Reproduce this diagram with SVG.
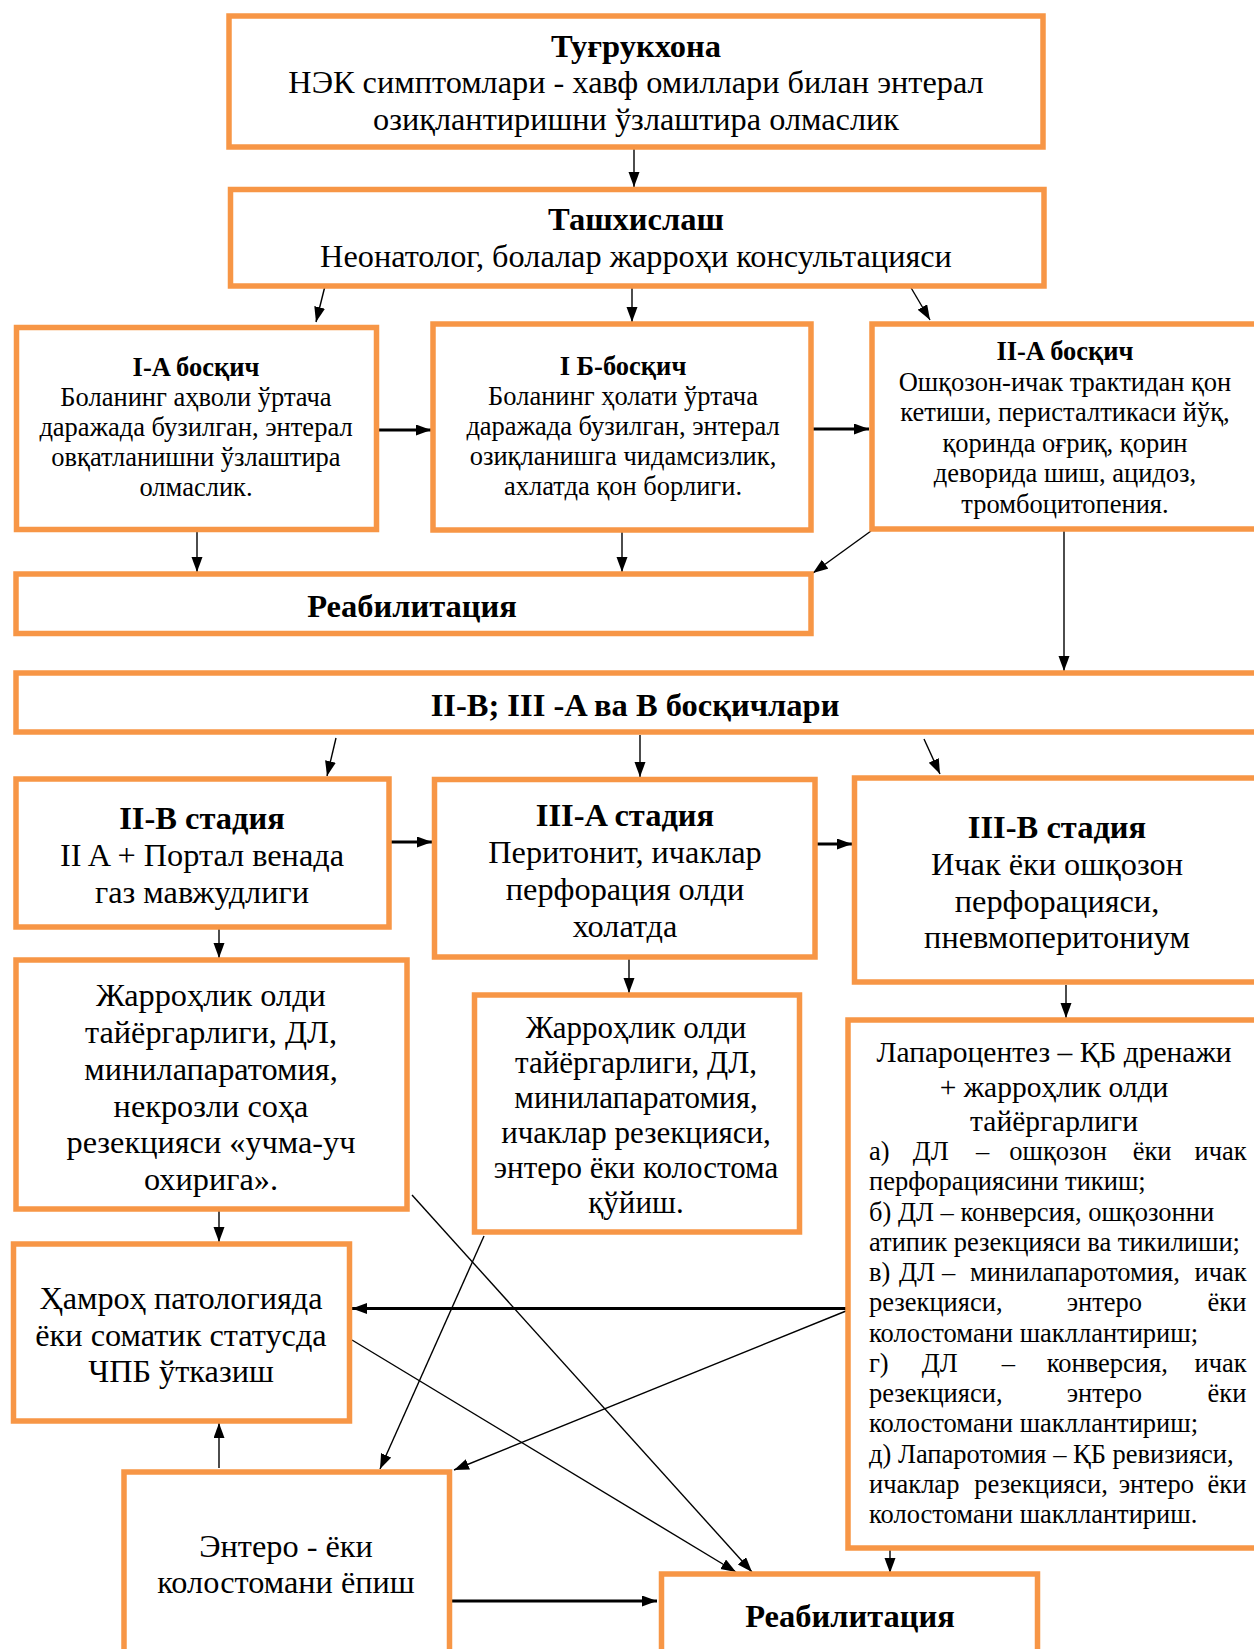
<svg xmlns="http://www.w3.org/2000/svg" width="1254" height="1649" viewBox="0 0 1254 1649">
<style>
.box{fill:#fff;stroke:#F79646;stroke-width:5.5}
.t{font-family:"Liberation Serif","DejaVu Serif",serif;fill:#000}
.c{text-anchor:middle}
.b{font-weight:bold}
.f31{font-size:32.3px}
.fb{font-size:32.5px}
.f30{font-size:31px}
.f29{font-size:29.5px}
.f26{font-size:26.5px}
.ln{stroke:#000;stroke-width:1.4;fill:none;marker-end:url(#ah)}
.lt{stroke:#000;stroke-width:2.8;fill:none;marker-end:url(#ah)}
</style>
<defs>
<marker id="ah" markerUnits="userSpaceOnUse" markerWidth="16" markerHeight="12" refX="15" refY="5.5" orient="auto">
<path d="M0,0 L15,5.5 L0,11 z" fill="#000"/>
</marker>
</defs>
<rect width="1254" height="1649" fill="#fff"/>

<g id="connectors">
<line class="ln" x1="634" y1="147" x2="634" y2="187"/>
<line class="ln" x1="325" y1="286" x2="316" y2="322"/>
<line class="ln" x1="632" y1="286" x2="632" y2="322"/>
<line class="ln" x1="910" y1="286" x2="930" y2="320"/>
<line class="lt" x1="378" y1="430" x2="431" y2="430"/>
<line class="lt" x1="813" y1="429" x2="869" y2="429"/>
<line class="ln" x1="197" y1="530" x2="197" y2="572"/>
<line class="ln" x1="622" y1="530" x2="622" y2="572"/>
<line class="ln" x1="871" y1="531" x2="813" y2="573"/>
<line class="ln" x1="1064" y1="531" x2="1064" y2="671"/>
<line class="ln" x1="336" y1="738" x2="327" y2="776"/>
<line class="ln" x1="640" y1="735" x2="640" y2="777"/>
<line class="ln" x1="924" y1="739" x2="940" y2="774"/>
<line class="lt" x1="391" y1="842" x2="432" y2="842"/>
<line class="lt" x1="817" y1="844" x2="852" y2="844"/>
<line class="ln" x1="219" y1="927" x2="219" y2="958"/>
<line class="ln" x1="629" y1="957" x2="629" y2="993"/>
<line class="ln" x1="1066" y1="985" x2="1066" y2="1018"/>
<line class="ln" x1="219" y1="1209" x2="219" y2="1242"/>
<line class="ln" x1="412" y1="1195" x2="752" y2="1572"/>
<line class="ln" x1="352" y1="1340" x2="736" y2="1572"/>
<line class="ln" x1="484" y1="1236" x2="380" y2="1469"/>
<line class="lt" x1="846" y1="1308.5" x2="352" y2="1308.5"/>
<line class="ln" x1="846" y1="1311" x2="454" y2="1470"/>
<line class="lt" x1="452" y1="1601" x2="657" y2="1601"/>
<line class="ln" x1="219" y1="1468" x2="219" y2="1423"/>
<line class="ln" x1="890" y1="1549" x2="890" y2="1573"/>
</g>

<g id="n-tugrukhona">
<rect class="box" x="229" y="16" width="814" height="131"/>
<text class="t c b fb" x="636" y="57">Туғрукхона</text>
<text class="t c f31" x="636" y="93">НЭК симптомлари - хавф омиллари билан энтерал</text>
<text class="t c f31" x="636" y="130">озиқлантиришни ўзлаштира олмаслик</text>
</g>

<g id="n-tashxislash">
<rect class="box" x="230.5" y="189.5" width="813.5" height="96.5"/>
<text class="t c b fb" x="636" y="230">Ташхислаш</text>
<text class="t c f31" x="636" y="267">Неонатолог, болалар жарроҳи консультацияси</text>
</g>

<g id="n-1a">
<rect class="box" x="16.5" y="327.5" width="360" height="202"/>
<text class="t c b f26" x="196" y="376">I-A босқич</text>
<text class="t c f26" x="196" y="406">Боланинг аҳволи ўртача</text>
<text class="t c f26" x="196" y="436">даражада бузилган, энтерал</text>
<text class="t c f26" x="196" y="466">овқатланишни ўзлаштира</text>
<text class="t c f26" x="196" y="496">олмаслик.</text>
</g>

<g id="n-1b">
<rect class="box" x="433" y="324" width="378" height="206"/>
<text class="t c b f26" x="623" y="375">I Б-босқич</text>
<text class="t c f26" x="623" y="405">Боланинг ҳолати ўртача</text>
<text class="t c f26" x="623" y="435">даражада бузилган, энтерал</text>
<text class="t c f26" x="623" y="465">озиқланишга чидамсизлик,</text>
<text class="t c f26" x="623" y="495">ахлатда қон борлиги.</text>
</g>

<g id="n-2a">
<rect class="box" x="872" y="324" width="392" height="205"/>
<text class="t c b f26" x="1065" y="360">II-A босқич</text>
<text class="t c f26" x="1065" y="390.5">Ошқозон-ичак трактидан қон</text>
<text class="t c f26" x="1065" y="421">кетиши, перисталтикаси йўқ,</text>
<text class="t c f26" x="1065" y="451.5">қоринда оғриқ, қорин</text>
<text class="t c f26" x="1065" y="482">деворида шиш, ацидоз,</text>
<text class="t c f26" x="1065" y="512.5">тромбоцитопения.</text>
</g>

<g id="n-reab1">
<rect class="box" x="16" y="574" width="795" height="59.5"/>
<text class="t c b fb" x="412" y="617">Реабилитация</text>
</g>

<g id="n-stages">
<rect class="box" x="16" y="673" width="1250" height="59"/>
<text class="t c b fb" x="635" y="716">II-B; III -A ва В босқичлари</text>
</g>

<g id="n-2b">
<rect class="box" x="16" y="779" width="373" height="148"/>
<text class="t c b fb" x="202" y="829">II-B стадия</text>
<text class="t c f31" x="202" y="866">II A + Портал венада</text>
<text class="t c f31" x="202" y="903">газ мавжудлиги</text>
</g>

<g id="n-3a">
<rect class="box" x="434.5" y="779.5" width="380.5" height="177.5"/>
<text class="t c b fb" x="625" y="826">III-A стадия</text>
<text class="t c f31" x="625" y="863">Перитонит, ичаклар</text>
<text class="t c f31" x="625" y="900">перфорация олди</text>
<text class="t c f31" x="625" y="937">холатда</text>
</g>

<g id="n-3b">
<rect class="box" x="854.5" y="778" width="410" height="204"/>
<text class="t c b fb" x="1057" y="838">III-B стадия</text>
<text class="t c f31" x="1057" y="875">Ичак ёки ошқозон</text>
<text class="t c f31" x="1057" y="912">перфорацияси,</text>
<text class="t c f31" x="1057" y="948">пневмоперитониум</text>
</g>

<g id="n-surg1">
<rect class="box" x="16" y="960" width="391" height="249"/>
<text class="t c f31" x="211" y="1006">Жарроҳлик олди</text>
<text class="t c f31" x="211" y="1043">тайёргарлиги, ДЛ,</text>
<text class="t c f31" x="211" y="1080">минилапаратомия,</text>
<text class="t c f31" x="211" y="1117">некрозли соҳа</text>
<text class="t c f31" x="211" y="1153">резекцияси «учма-уч</text>
<text class="t c f31" x="211" y="1190">охирига».</text>
</g>

<g id="n-surg2">
<rect class="box" x="474.5" y="995" width="325" height="237"/>
<text class="t c f30" x="636" y="1038">Жарроҳлик олди</text>
<text class="t c f30" x="636" y="1073">тайёргарлиги, ДЛ,</text>
<text class="t c f30" x="636" y="1108">минилапаратомия,</text>
<text class="t c f30" x="636" y="1143">ичаклар резекцияси,</text>
<text class="t c f30" x="636" y="1178">энтеро ёки колостома</text>
<text class="t c f30" x="636" y="1213">қўйиш.</text>
</g>

<g id="n-laparo">
<rect class="box" x="848" y="1020" width="416" height="528"/>
<text class="t c f29" x="1054" y="1062">Лапароцентез – ҚБ дренажи</text>
<text class="t c f29" x="1054" y="1097">+ жарроҳлик олди</text>
<text class="t c f29" x="1054" y="1131">тайёргарлиги</text>
<text class="t f26" y="1160"><tspan x="869">а)</tspan><tspan x="912.7">ДЛ</tspan><tspan x="976">–</tspan><tspan x="1009.3">ошқозон</tspan><tspan x="1132.7">ёки</tspan><tspan x="1194.5">ичак</tspan></text>
<text class="t f26" x="869" y="1190.3">перфорациясини тикиш;</text>
<text class="t f26" x="869" y="1220.5">б) ДЛ – конверсия, ошқозонни</text>
<text class="t f26" x="869" y="1250.8">атипик резекцияси ва тикилиши;</text>
<text class="t f26" y="1281"><tspan x="869">в)</tspan><tspan x="899">ДЛ</tspan><tspan x="942">–</tspan><tspan x="970">минилапаротомия,</tspan><tspan x="1194.5">ичак</tspan></text>
<text class="t f26" y="1311.3"><tspan x="869">резекцияси,</tspan><tspan x="1066.7">энтеро</tspan><tspan x="1207.5">ёки</tspan></text>
<text class="t f26" x="869" y="1341.5">колостомани шакллантириш;</text>
<text class="t f26" y="1371.8"><tspan x="869">г)</tspan><tspan x="921.7">ДЛ</tspan><tspan x="1001.7">–</tspan><tspan x="1046.7">конверсия,</tspan><tspan x="1194.5">ичак</tspan></text>
<text class="t f26" y="1402"><tspan x="869">резекцияси,</tspan><tspan x="1066.7">энтеро</tspan><tspan x="1207.5">ёки</tspan></text>
<text class="t f26" x="869" y="1432.3">колостомани шакллантириш;</text>
<text class="t f26" x="869" y="1462.5">д) Лапаротомия – ҚБ ревизияси,</text>
<text class="t f26" y="1492.8"><tspan x="869">ичаклар</tspan><tspan x="974.3">резекцияси,</tspan><tspan x="1118.7">энтеро</tspan><tspan x="1207.5">ёки</tspan></text>
<text class="t f26" x="869" y="1523">колостомани шакллантириш.</text>
</g>

<g id="n-hamroh">
<rect class="box" x="13.5" y="1244" width="336" height="177"/>
<text class="t c f31" x="181" y="1309">Ҳамроҳ патологияда</text>
<text class="t c f31" x="181" y="1346">ёки соматик статусда</text>
<text class="t c f31" x="181" y="1382">ЧПБ ўтказиш</text>
</g>

<g id="n-entero">
<rect class="box" x="124" y="1472" width="325.5" height="190"/>
<text class="t c f31" x="286" y="1557">Энтеро - ёки</text>
<text class="t c f31" x="286" y="1593">колостомани ёпиш</text>
</g>

<g id="n-reab2">
<rect class="box" x="661.5" y="1574" width="376" height="90"/>
<text class="t c b fb" x="850" y="1627">Реабилитация</text>
</g>
</svg>
